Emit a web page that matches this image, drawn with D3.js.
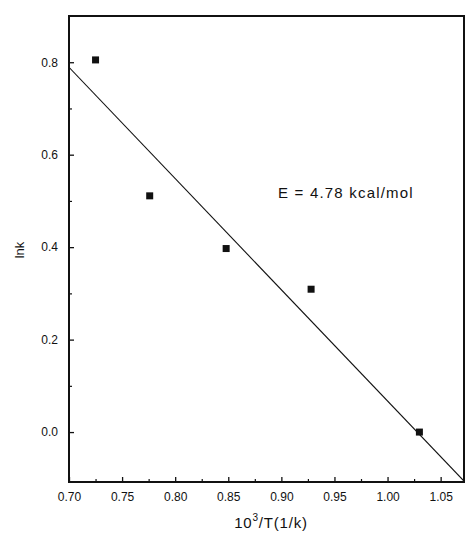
<!DOCTYPE html>
<html>
<head>
<meta charset="utf-8">
<script src="https://cdn.jsdelivr.net/npm/d3@7"></script>
<style>
  html, body { margin: 0; padding: 0; background: #fff; }
  svg { display: block; }
  text { font-family: "Liberation Sans", Arial, sans-serif; fill: #111; }
</style>
</head>
<body>
<svg id="chart" width="471" height="539"></svg>
<script>
// ---- data ----
const xValues = [0.725, 0.776, 0.848, 0.928, 1.030];
const lnkValues = [0.805, 0.511, 0.397, 0.309, 0.0];
const fitX = [0.70, 1.072];
const fitY = [0.789, -0.106];
const xTicks = [0.70, 0.75, 0.80, 0.85, 0.90, 0.95, 1.00, 1.05];
const xMinorTicks = [0.725, 0.775, 0.825, 0.875, 0.925, 0.975, 1.025];
const yTicks = [0.0, 0.2, 0.4, 0.6, 0.8];
const yMinorTicks = [0.1, 0.3, 0.5, 0.7];
const annotation = "E = 4.78 kcal/mol";
const xTitle = ["10", "3", "/T(1/k)"];
const yTitle = "lnk";

// ---- layout ----
const L = 69, R = 464, T = 16, B = 482;
const x = d3.scaleLinear().domain([0.70, 1.072]).range([L, R]);
const y = d3.scaleLinear().domain([-0.108, 0.9]).range([B, T]);

const svg = d3.select("#chart");

// axes with inward ticks
const xAxis = d3.axisBottom(x).tickValues(xTicks).tickSize(-5).tickPadding(10)
  .tickFormat(d3.format(".2f"));
const gx = svg.append("g").attr("transform", `translate(0,${B})`).call(xAxis);
gx.select(".domain").remove();
gx.selectAll(".tick line").attr("stroke", "#111").attr("stroke-width", 1.3);
gx.selectAll(".tick text").style("font-size", "12px").attr("dy", "0.75em");

const gxm = svg.append("g").attr("transform", `translate(0,${B})`)
  .call(d3.axisBottom(x).tickValues(xMinorTicks).tickSize(-3).tickFormat(""));
gxm.select(".domain").remove();
gxm.selectAll(".tick line").attr("stroke", "#111").attr("stroke-width", 1.2);

const yAxis = d3.axisLeft(y).tickValues(yTicks).tickSize(-5).tickPadding(11)
  .tickFormat(d3.format(".1f"));
const gy = svg.append("g").attr("transform", `translate(${L},0)`).call(yAxis);
gy.select(".domain").remove();
gy.selectAll(".tick line").attr("stroke", "#111").attr("stroke-width", 1.3);
gy.selectAll(".tick text").style("font-size", "12px");

const gym = svg.append("g").attr("transform", `translate(${L},0)`)
  .call(d3.axisLeft(y).tickValues(yMinorTicks).tickSize(-3).tickFormat(""));
gym.select(".domain").remove();
gym.selectAll(".tick line").attr("stroke", "#111").attr("stroke-width", 1.2);

// frame
svg.append("rect").attr("x", L).attr("y", T).attr("width", R - L).attr("height", B - T)
  .attr("fill", "none").attr("stroke", "#111").attr("stroke-width", 2);

// fit line
svg.append("clipPath").attr("id", "clip")
  .append("rect").attr("x", L).attr("y", T).attr("width", R - L).attr("height", B - T);
svg.append("path")
  .datum(fitX.map((v, i) => [v, fitY[i]]))
  .attr("clip-path", "url(#clip)")
  .attr("d", d3.line().x(d => x(d[0])).y(d => y(d[1])))
  .attr("fill", "none").attr("stroke", "#111").attr("stroke-width", 1.1);

// points
const s = 7;
svg.append("g").selectAll("rect").data(xValues).join("rect")
  .attr("x", (d) => x(d) - s / 2)
  .attr("y", (d, i) => y(lnkValues[i]) - s / 2)
  .attr("width", s).attr("height", s).attr("fill", "#111");

// annotation
svg.append("text").attr("x", 278).attr("y", 198).style("font-size", "15px")
  .style("letter-spacing", "1.2px").text(annotation);

// axis titles
const xt = svg.append("text").attr("x", 271).attr("y", 528).attr("text-anchor", "middle")
  .style("font-size", "15px").style("letter-spacing", "0.8px");
xt.append("tspan").text(xTitle[0]);
xt.append("tspan").attr("dy", -7).style("font-size", "10px").text(xTitle[1]);
xt.append("tspan").attr("dy", 7).text(xTitle[2]);

svg.append("text").attr("transform", "translate(24,250) rotate(-90)")
  .attr("text-anchor", "middle").style("font-size", "13px").text(yTitle);
</script>
</body>
</html>
